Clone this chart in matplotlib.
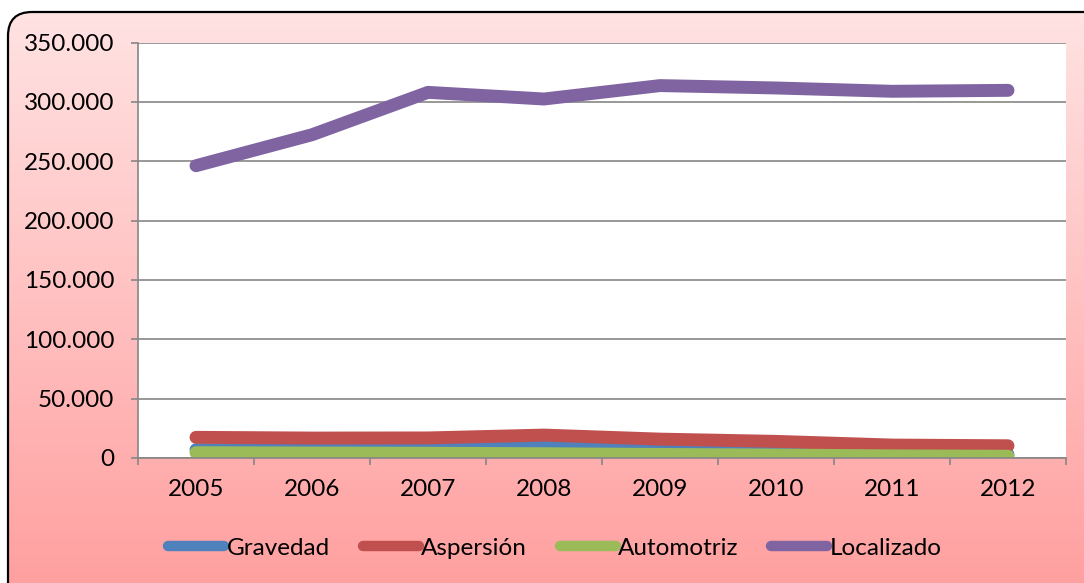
import numpy as np
import matplotlib
matplotlib.use("Agg")
import matplotlib.pyplot as plt
from matplotlib.patches import FancyBboxPatch
from matplotlib.ticker import FuncFormatter

years = ["2005", "2006", "2007", "2008", "2009", "2010", "2011", "2012"]
gravedad = [7000, 7000, 7500, 9500, 7000, 5000, 3500, 3000]
aspersion = [17400, 16800, 16900, 19300, 15900, 14000, 10900, 10300]
automotriz = [4500, 4200, 4000, 3600, 3000, 2500, 1800, 1500]
localizado = [246200, 272300, 308000, 302400, 313700, 311700, 308900, 309700]

names = ["Gravedad", "Aspersión", "Automotriz", "Localizado"]
colors = ["#4F81BD", "#C0504D", "#9BBB59", "#8064A2"]

plt.rcParams['font.family'] = ['Lato', 'DejaVu Sans']
fs = 17.5

W, H = 1084, 583
fig = plt.figure(figsize=(W/100, H/100), dpi=100)

# gradient background with rounded border
bg = fig.add_axes([0, 0, 1, 1], zorder=-10)
bg.set_xlim(0, W)
bg.set_ylim(H, 0)
bg.axis('off')
grad = np.linspace(0, 1, 256).reshape(-1, 1)
top = np.array([255, 228, 228]) / 255
bot = np.array([255, 160, 160]) / 255
img = top + (bot - top) * grad[..., None]
box = FancyBboxPatch((8, 12), W + 40, H + 40, boxstyle="round,pad=0,rounding_size=24",
                     facecolor='none', edgecolor='black', linewidth=1.6)
bg.add_patch(box)
im = bg.imshow(img, extent=[0, W, H, 0], aspect='auto')
im.set_clip_path(box)

ax = fig.add_axes([138/W, 1 - 458/H, (1066-138)/W, (458-42.5)/H])
ax.set_facecolor('white')
x = np.arange(len(years))
for name, vals, c in zip(names, [gravedad, aspersion, automotriz, localizado], colors):
    ax.plot(x, vals, color=c, lw=9.3, solid_capstyle='round', solid_joinstyle='round', label=name)

ax.set_xlim(-0.5, len(years) - 0.5)
ax.set_ylim(0, 350000)
ax.set_yticks(np.arange(0, 350001, 50000))
ax.yaxis.set_major_formatter(FuncFormatter(lambda v, p: "0" if v == 0 else f"{int(v):,}".replace(",", ".")))
ax.set_xticks(x)
ax.set_xticklabels(years)
ax.set_xticks(np.arange(-0.5, len(years)), minor=True)
ax.tick_params(axis='x', which='major', length=0, pad=15, labelsize=fs)
ax.tick_params(axis='x', which='minor', length=5, color='#868686', width=1.2)
ax.tick_params(axis='y', length=5, color='#868686', width=1.2, labelsize=fs, pad=12)
ax.grid(axis='y', color='#868686', lw=1.2)
ax.set_axisbelow(True)
for s in ['top', 'right']:
    ax.spines[s].set_visible(False)
for s in ['left', 'bottom']:
    ax.spines[s].set_color('#868686')
    ax.spines[s].set_linewidth(1.2)

leg = fig.legend(loc='center', bbox_to_anchor=(0.512, 1 - 548/H), ncol=4, frameon=False,
                 fontsize=fs, handlelength=2.3, handletextpad=0.1, columnspacing=1.35)
for h in leg.get_lines():
    h.set_linewidth(7.5)
    h.set_solid_capstyle('round')

fig.savefig("out.png", dpi=100)
